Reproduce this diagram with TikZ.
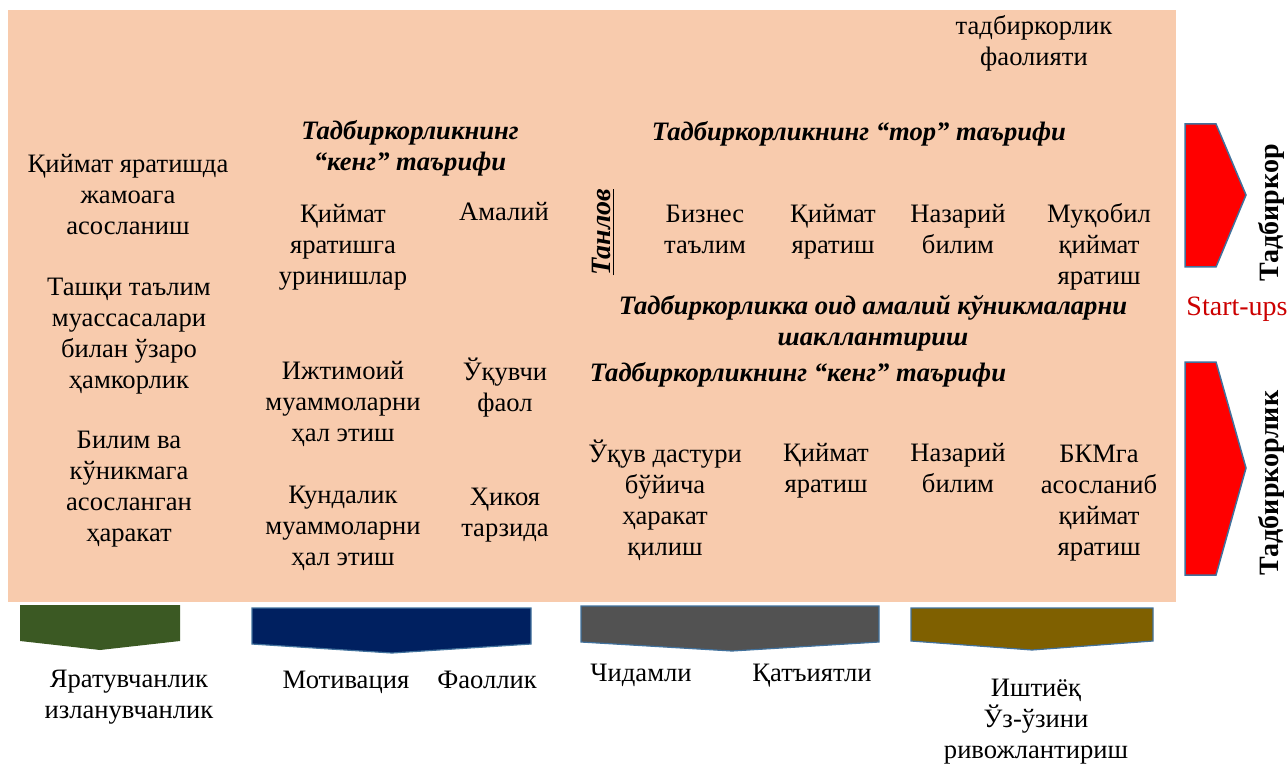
\documentclass[tikz,border=0pt]{standalone}
\usepackage{fontspec}
\setmainfont{Liberation Serif}
\usepackage{tikz}
\usetikzlibrary{positioning}
\usepackage{xcolor}
\definecolor{peach}{HTML}{F8CBAD}
\definecolor{edgeblue}{HTML}{41719C}
\definecolor{darkgreen}{HTML}{3B5923}
\definecolor{navy}{HTML}{002060}
\definecolor{darkgray}{HTML}{525252}
\definecolor{olive}{HTML}{7F6000}

\begin{document}
\begin{tikzpicture}[
    x=0.5pt, y=-0.5pt,
    txt/.style={align=center, inner sep=0pt, anchor=base, font=\fontsize{13.3}{15.5}\selectfont},
    head/.style={txt, font=\fontsize{13.3}{15.5}\selectfont\bfseries\itshape},
    side/.style={inner sep=0pt, rotate=90, font=\fontsize{14}{15.5}\selectfont\bfseries},
    redarrow/.style={fill=red, draw=edgeblue, line width=0.75pt},
    downarrow/.style={draw=edgeblue, line width=0.6pt}
    ]
\useasboundingbox (0,0) rectangle (1288,764);

% background
\fill[peach] (8,10) rectangle (1176,602);

% top right (base = last line)
\node[txt] (faol) at (1034,66) {тадбиркорлик\\фаолияти};

% headings
\node[head] (keng1) at (410,171) {Тадбиркорликнинг\\“кенг” таърифи};
\node[head] (tor) at (859,141) {Тадбиркорликнинг “тор” таърифи};
\node[head] (shakl) at (873,345) {Тадбиркорликка оид амалий кўникмаларни\\шакллантириш};
\node[head] (keng2) at (798,381) {Тадбиркорликнинг “кенг” таърифи};

% left column
\node[txt] (l1) at (128,235) {Қиймат яратишда\\жамоага\\асосланиш};
\node[txt] (l2) at (129,388) {Ташқи таълим\\муассасалари\\билан ўзаро\\ҳамкорлик};
\node[txt] (l3) at (129,541) {Билим ва\\кўникмага\\асосланган\\ҳаракат};

% keng columns
\node[txt] (c1) at (343,285) {Қиймат\\яратишга\\уринишлар};
\node[txt] (amaliy) at (504,221) {Амалий};
\node[txt] (c2) at (343,441) {Ижтимоий\\муаммоларни\\ҳал этиш};
\node[txt] (ukuvchi) at (505,411) {Ўқувчи\\фаол};
\node[txt] (c3) at (343,565) {Кундалик\\муаммоларни\\ҳал этиш};
\node[txt] (hikoya) at (505,536) {Ҳикоя\\тарзида};

% tor row
\node[side, font=\fontsize{14}{15.5}\selectfont\bfseries\itshape] (tanlov) at (603,232) {\underline{Танлов}};
\node[txt] (b1) at (705,254) {Бизнес\\таълим};
\node[txt] (b2) at (833,254) {Қиймат\\яратиш};
\node[txt] (b3) at (958,254) {Назарий\\билим};
\node[txt] (b4) at (1099,285) {Муқобил\\қиймат\\яратиш};

% keng row
\node[txt] (d1) at (665,555) {Ўқув дастури\\бўйича\\ҳаракат\\қилиш};
\node[txt] (d2) at (826,492) {Қиймат\\яратиш};
\node[txt] (d3) at (958,492) {Назарий\\билим};
\node[txt] (d4) at (1099,555) {БКМга\\асосланиб\\қиймат\\яратиш};

% right side
\draw[redarrow] (1185,124) -- (1216,124) -- (1246,195) -- (1216,267) -- (1185,267) -- cycle;
\draw[redarrow] (1185,362) -- (1216,362) -- (1246,468) -- (1216,575) -- (1185,575) -- cycle;
\node[side] (tadb1) at (1271,213) {Тадбиркор};
\node[side] (tadb2) at (1271,483) {Тадбиркорлик};
\node[txt, font=\fontsize{14}{15.5}\selectfont, text=red!80!black] (startups) at (1237,315) {Start-ups};

% bottom arrows
\fill[darkgreen] (20,605) -- (180,605) -- (180,641) -- (100,650) -- (20,641) -- cycle;
\draw[downarrow, fill=navy] (252,608) -- (531,608) -- (531,644) -- (392,653) -- (252,644) -- cycle;
\draw[downarrow, fill=darkgray] (581,606) -- (879,606) -- (879,642) -- (732,651) -- (581,642) -- cycle;
\draw[downarrow, fill=olive] (911,608) -- (1153,608) -- (1153,641) -- (1032,650) -- (911,641) -- cycle;

% bottom labels
\node[txt] (yarat) at (129,718) {Яратувчанлик\\изланувчанлик};
\node[txt] (motiv) at (346,688) {Мотивация};
\node[txt] (faoll) at (487,688) {Фаоллик};
\node[txt] (chid) at (641,681) {Чидамли};
\node[txt] (qat) at (812,681) {Қатъиятли};
\node[txt] (isht) at (1036,758) {Иштиёқ\\Ўз-ўзини\\ривожлантириш};
\end{tikzpicture}
\end{document}
